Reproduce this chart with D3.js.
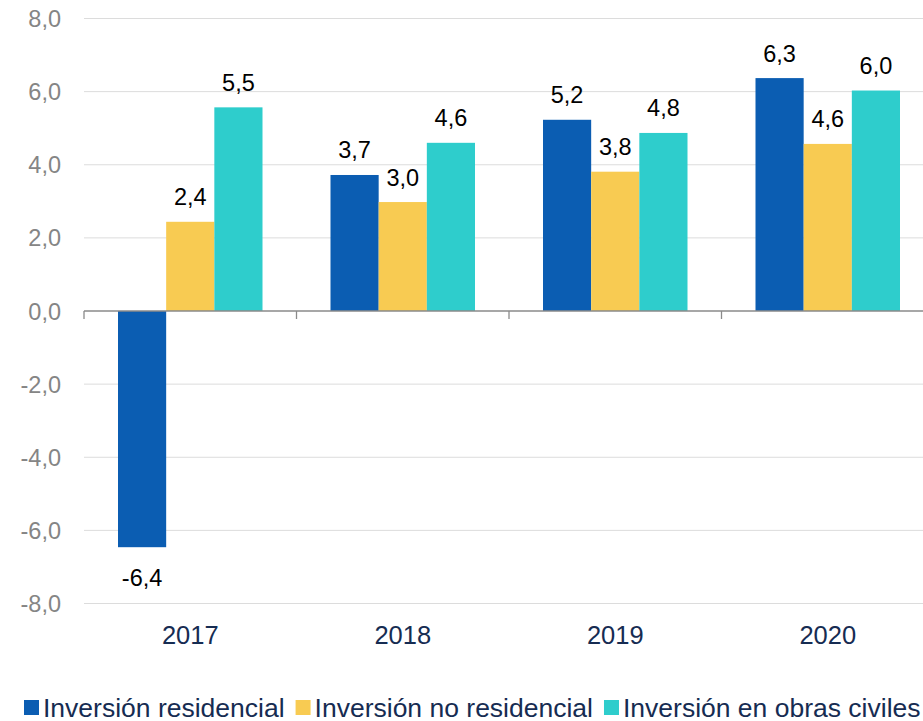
<!DOCTYPE html>
<html>
<head>
<meta charset="utf-8">
<script src="https://cdn.jsdelivr.net/npm/d3@7"></script>
<style>
  body { margin: 0; background: #fff; }
  svg { display: block; font-family: "Liberation Sans", Arial, sans-serif; }
</style>
</head>
<body>
<svg id="chart" width="923" height="721"></svg>
<script>
// data (bar heights estimated, labels as printed)
const years = ["2017", "2018", "2019", "2020"];
const seriesNames = ["Inversión residencial", "Inversión no residencial", "Inversión en obras civiles"];
const residencial = [-6.46, 3.72, 5.23, 6.37];
const noResidencial = [2.44, 2.98, 3.81, 4.57];
const obrasCiviles = [5.57, 4.6, 4.87, 6.03];
const residencialLabels = ["-6,4", "3,7", "5,2", "6,3"];
const noResidencialLabels = ["2,4", "3,0", "3,8", "4,6"];
const obrasCivilesLabels = ["5,5", "4,6", "4,8", "6,0"];
const yTicks = [-8, -6, -4, -2, 0, 2, 4, 6, 8];
const colors = ["#0b5db2", "#f8cb52", "#2ecdcc"];

const allSeries = [residencial, noResidencial, obrasCiviles];
const allLabels = [residencialLabels, noResidencialLabels, obrasCivilesLabels];
const fmt = v => d3.format(".1f")(v).replace(".", ",").replace("−", "-");

const svg = d3.select("#chart");

// plot area
const left = 84, right = 923;
const x = d3.scaleBand()
  .domain(years)
  .range([left, left + 4 * 212.5])
  .paddingInner(0.32)
  .paddingOuter(0.16);
const xs = d3.scaleBand()
  .domain(seriesNames)
  .range([0, x.bandwidth()]);
const y = d3.scaleLinear()
  .domain([-8, 8])
  .range([603.5, 18.5]);

// gridlines
svg.append("g").selectAll("line")
  .data(yTicks.filter(t => t !== 0))
  .enter().append("line")
  .attr("x1", left).attr("x2", right)
  .attr("y1", d => y(d)).attr("y2", d => y(d))
  .attr("stroke", "#dcdcdc").attr("stroke-width", 1);

// y labels
svg.append("g").selectAll("text")
  .data(yTicks)
  .enter().append("text")
  .attr("x", 61)
  .attr("y", d => y(d) + 8.5)
  .attr("text-anchor", "end")
  .attr("fill", "#858585")
  .style("font-size", "23.5px")
  .text(d => fmt(d));

// bars
years.forEach((yr, i) => {
  const g = svg.append("g").attr("transform", `translate(${x(yr)},0)`);
  allSeries.forEach((s, j) => {
    const v = s[i];
    g.append("rect")
      .attr("x", xs(seriesNames[j]))
      .attr("width", xs.bandwidth())
      .attr("y", Math.min(y(v), y(0)))
      .attr("height", Math.abs(y(v) - y(0)))
      .attr("fill", colors[j]);
    g.append("text")
      .attr("x", xs(seriesNames[j]) + xs.bandwidth() / 2)
      .attr("y", v >= 0 ? y(v) - 16.5 : y(v) + 39)
      .attr("text-anchor", "middle")
      .attr("fill", "#000")
      .style("font-size", "23.5px")
      .text(allLabels[j][i]);
  });
});

// zero axis with ticks at band boundaries
svg.append("line")
  .attr("x1", left).attr("x2", right)
  .attr("y1", y(0)).attr("y2", y(0))
  .attr("stroke", "#8a8a8a").attr("stroke-width", 1.3);
const bounds = years.map(yr => x(yr) - x.step() * 0.16);
svg.append("g").selectAll("line")
  .data(bounds)
  .enter().append("line")
  .attr("x1", d => d).attr("x2", d => d)
  .attr("y1", y(0)).attr("y2", y(0) + 8)
  .attr("stroke", "#8a8a8a").attr("stroke-width", 1.3);

// x labels
svg.append("g").selectAll("text")
  .data(years)
  .enter().append("text")
  .attr("x", d => x(d) + x.bandwidth() / 2)
  .attr("y", 644)
  .attr("text-anchor", "middle")
  .attr("fill", "#162c52")
  .style("font-size", "25.5px")
  .text(d => d);

// legend (runs off the right edge, as in the original)
let lx = 24;
seriesNames.forEach((name, j) => {
  svg.append("rect")
    .attr("x", lx).attr("y", 700)
    .attr("width", 15).attr("height", 15)
    .attr("fill", colors[j]);
  const t = svg.append("text")
    .attr("x", lx + 19)
    .attr("y", 716.5)
    .attr("fill", "#162c52")
    .style("font-size", "26.5px")
    .text(name);
  lx += 19 + t.node().getComputedTextLength() + 11;
});
</script>
</body>
</html>
